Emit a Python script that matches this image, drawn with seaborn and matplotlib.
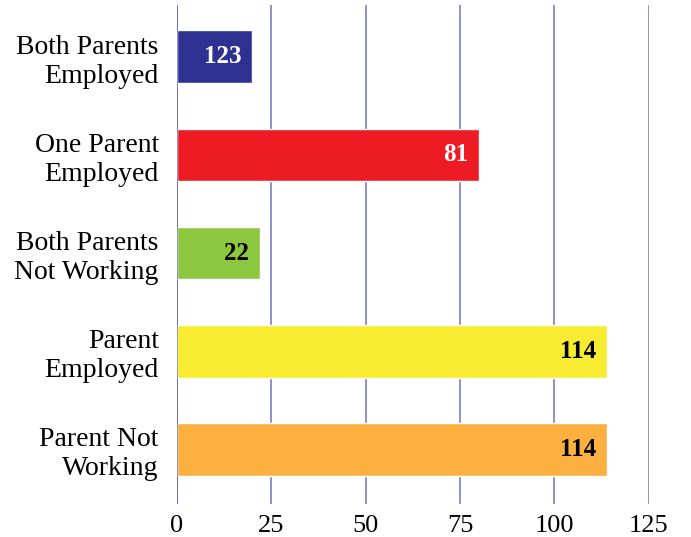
import matplotlib
matplotlib.use("Agg")
import matplotlib.pyplot as plt
import seaborn as sns
import pandas as pd

categories = ["Both Parents\nEmployed", "One Parent\nEmployed", "Both Parents\nNot Working",
              "Parent\nEmployed", "Parent Not\nWorking"]
bar_lengths = [20, 80, 22, 114, 114]
bar_labels = ["123", "81", "22", "114", "114"]
colors = ["#2E3192", "#ED1C24", "#8DC63F", "#F7EC31", "#FBB040"]
label_colors = ["white", "white", "black", "black", "black"]

sns.set_theme(style="white")
plt.rcParams["font.family"] = ["Liberation Serif", "DejaVu Serif"]

df = pd.DataFrame({"group": categories, "count": bar_lengths})

fig = plt.figure(figsize=(6.91, 5.37), dpi=100)
ax = fig.add_axes([0.256, 0.0615, 0.683, 0.9292])

sns.barplot(data=df, x="count", y="group", hue="group", palette=colors,
            legend=False, width=0.54, saturation=1, ax=ax, zorder=3)

ax.set_xlim(0, 125)
ax.set_ylim(4.56, -0.53)
ax.set_xticks([0, 25, 50, 75, 100, 125])
ax.grid(axis="x", color="#5b5bb5", linewidth=1.1, alpha=0.85, zorder=0)
ax.grid(axis="y", visible=False)
for s in ["top", "right", "bottom", "left"]:
    ax.spines[s].set_visible(False)
ax.axvline(0, color="#5b5bb5", linewidth=1.1, alpha=0.85, zorder=4)
ax.tick_params(axis="both", length=0, labelcolor="black")
ax.tick_params(axis="x", pad=8, labelsize=19)
ax.tick_params(axis="y", pad=13, labelsize=20)
for t in ax.get_yticklabels():
    t.set_horizontalalignment("right")
    t.set_linespacing(1.2)
ax.set_xlabel("")
ax.set_ylabel("")

for i, (container, lab) in enumerate(zip(ax.containers, bar_labels)):
    texts = ax.bar_label(container, labels=[lab], label_type="edge", padding=-8,
                         fontsize=18, fontweight="bold", color=label_colors[i])
    for t in texts:
        t.set_horizontalalignment("right")

fig.savefig("out.png", dpi=100)
